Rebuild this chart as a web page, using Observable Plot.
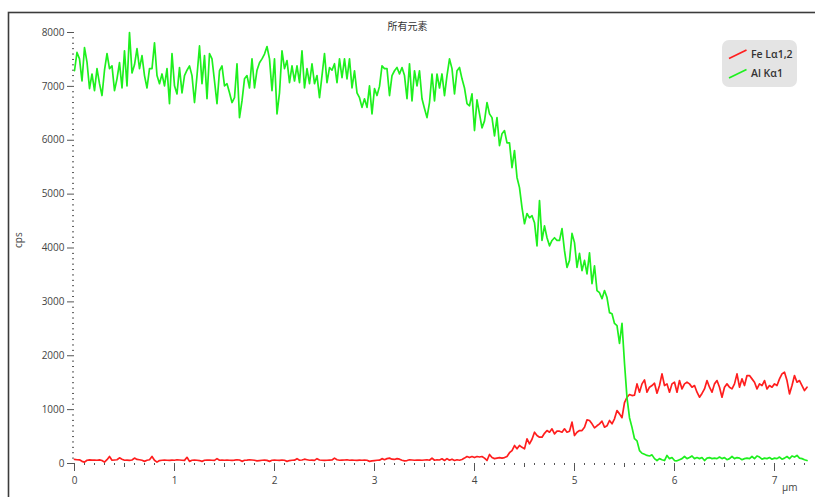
<!DOCTYPE html>
<html>
<head>
<meta charset="utf-8">
<script src="https://cdn.jsdelivr.net/npm/d3@7"></script>
<script src="https://cdn.jsdelivr.net/npm/@observablehq/plot@0.6"></script>
<style>
  html, body { margin: 0; padding: 0; background: #fff; }
  #chart svg { display: block; }
</style>
</head>
<body>
<div id="chart"></div>
<script>
// ---- chart texts ----
const chartTitle = "所有元素";
const yLabel = "cps";
const xLabel = "µm";
const seriesNames = ["Fe Lα1,2", "Al Kα1"];
const seriesColors = ["#ff1e1e", "#1ef01e"];

// ---- ticks ----
const yTicks = [0, 1000, 2000, 3000, 4000, 5000, 6000, 7000, 8000];
const xTicks = [0, 1, 2, 3, 4, 5, 6, 7];

// ---- sampling grid (µm) ----
const xStart = 0;
const xStep = 0.025;

// ---- Fe Lα1,2 (cps) ----
const feLa = [
  75, 70, 68, 40, 25, 60, 68, 62, 65, 60, 68, 55, 25, 70, 130, 60, 65, 70, 105, 80,
  60, 62, 58, 65, 100, 75, 70, 60, 40, 60, 70, 130, 60, 25, 55, 60, 65, 60, 58, 62,
  60, 70, 65, 60, 58, 115, 40, 60, 65, 60, 55, 40, 60, 62, 65, 60, 58, 90, 60, 62,
  60, 65, 60, 58, 62, 70, 65, 40, 60, 62, 70, 65, 60, 50, 55, 60, 62, 58, 40, 60,
  62, 60, 58, 65, 60, 40, 55, 60, 62, 90, 60, 65, 80, 70, 60, 62, 58, 90, 65, 60,
  58, 60, 62, 65, 100, 70, 60, 62, 65, 70, 60, 62, 60, 58, 62, 60, 65, 60, 40, 50,
  55, 60, 62, 90, 70, 90, 100, 80, 75, 90, 80, 60, 50, 55, 70, 65, 60, 62, 65, 60,
  65, 70, 60, 100, 60, 70, 65, 87, 56, 90, 60, 80, 56, 70, 60, 75, 100, 130, 110, 130,
  110, 130, 120, 130, 100, 56, 167, 110, 90, 100, 110, 100, 110, 130, 200, 241, 334, 272, 334, 300,
  272, 457, 365, 450, 581, 519, 488, 488, 560, 612, 581, 643, 550, 600, 600, 581, 643, 581, 600, 767,
  519, 581, 612, 612, 674, 810, 798, 736, 662, 700, 736, 785, 674, 699, 798, 736, 829, 983, 921, 850,
  1130, 1230, 1280, 1261, 1270, 1478, 1323, 1478, 1552, 1323, 1416, 1447, 1490, 1305, 1447, 1663, 1447, 1478, 1323, 1478,
  1509, 1323, 1540, 1385, 1478, 1509, 1478, 1416, 1447, 1323, 1230, 1300, 1385, 1540, 1416, 1323, 1478, 1540, 1416, 1230,
  1416, 1478, 1416, 1385, 1478, 1663, 1416, 1571, 1447, 1632, 1632, 1571, 1509, 1385, 1478, 1447, 1540, 1385, 1447, 1416,
  1478, 1447, 1571, 1663, 1695, 1540, 1292, 1447, 1632, 1509, 1540, 1447, 1354, 1416
];

// ---- Al Kα1 (cps) ----
const alKa = [
  7290, 7630, 7510, 7100, 7720, 7450, 6960, 7230, 6920, 7330, 7050, 6830, 7300, 7610, 7330, 7380, 6920, 7140, 7440, 6970,
  7660, 7010, 8000, 7250, 7400, 7700, 7330, 7570, 7200, 6970, 7330, 7330, 7810, 7200, 7050, 7230, 7010, 7330, 6680, 7610,
  7010, 6860, 7350, 6880, 7200, 7300, 7380, 7200, 6700, 7200, 7750, 7050, 7570, 6770, 7610, 7510, 7100, 6680, 7290, 7380,
  7010, 7050, 6880, 6700, 6790, 7420, 6420, 6730, 7140, 7200, 6970, 7510, 6970, 7300, 7440, 7510, 7600, 7740, 7510, 6920,
  7510, 6490, 6880, 7660, 7330, 7480, 7070, 7380, 7100, 7380, 7070, 7660, 6970, 7330, 7050, 7420, 7050, 7200, 6790, 7200,
  7610, 7070, 7350, 7300, 7420, 7070, 7510, 7160, 7510, 7140, 7510, 6970, 7290, 6880, 6790, 6610, 6770, 6610, 7010, 6490,
  6960, 6830, 7000, 7380, 7330, 7330, 6830, 7200, 7290, 7350, 7230, 7350, 7200, 6770, 7420, 6730, 7290, 7010, 7290, 6770,
  6590, 6420, 6700, 7230, 6730, 7230, 6970, 7230, 6830, 7200, 7510, 7330, 6860, 7290, 7350, 7140, 6970, 6680, 6640, 6860,
  6180, 6750, 6490, 6230, 6360, 6700, 6490, 6420, 6080, 6420, 5900, 6120, 6180, 5950, 5950, 5490, 5810, 5310, 5120, 4750,
  4450, 4640, 4560, 4600, 4470, 4040, 4880, 4140, 4410, 4190, 4040, 4140, 4190, 4140, 4140, 4360, 3950, 3640, 3770, 4270,
  4100, 3640, 3900, 3580, 3770, 3520, 3910, 3340, 3670, 3210, 3170, 3060, 3210, 3080, 2800, 2780, 2600, 2560, 2230, 2600,
  1860, 1220, 850, 670, 460, 420, 240, 190, 170, 150, 140, 160, 90, 55, 90, 70, 55, 150, 90, 110,
  55, 50, 70, 90, 130, 90, 110, 140, 90, 110, 90, 110, 55, 100, 110, 90, 100, 90, 120, 90,
  110, 70, 90, 130, 90, 110, 100, 70, 90, 100, 90, 130, 90, 140, 120, 80, 100, 90, 110, 80,
  100, 90, 120, 80, 100, 130, 90, 140, 120, 150, 100, 90, 70, 55
];

// ---- build table ----
const rows = [];
feLa.forEach((v, i) => rows.push({ x: xStart + i * xStep, cps: v, series: seriesNames[0] }));
alKa.forEach((v, i) => rows.push({ x: xStart + i * xStep, cps: v, series: seriesNames[1] }));

const yMinor = d3.range(yTicks[0], yTicks[yTicks.length - 1] + 1, 100).filter(v => v % 1000 !== 0);
const xMinor = d3.range(0, 74).map(i => i / 10).filter(v => v <= 7.32 && Math.abs(v * 2 - Math.round(v * 2)) > 1e-6);
const xHalf = d3.range(0, 15).map(i => i / 2).filter(v => v % 1 !== 0 && v <= 7.32);

const fontFamily = "'Open Sans', 'Noto Sans', 'Noto Sans CJK SC', sans-serif";

const chart = Plot.plot({
  width: 815,
  height: 497,
  marginLeft: 74,
  marginRight: 9,
  marginTop: 32,
  marginBottom: 34,
  x: { domain: [0, 7.32], axis: null },
  y: { domain: [0, 8000], axis: null },
  color: { domain: seriesNames, range: seriesColors },
  style: { fontFamily, fontSize: "10px", color: "#444", background: "#fff", overflow: "hidden" },
  marks: [
    Plot.frame({ insetLeft: -66, insetTop: -20, insetRight: -30, insetBottom: -80, stroke: "#3c3c3c", strokeWidth: 1.6 }),
    Plot.axisY({ ticks: yMinor, tickSize: 2, tickFormat: () => "", stroke: "#555", label: null }),
    Plot.axisY({ ticks: yTicks, tickSize: 7, tickPadding: 3, tickFormat: d => String(d), stroke: "#555", fill: "#444", label: null }),
    Plot.axisX({ ticks: xMinor, tickSize: 2, tickFormat: () => "", stroke: "#555", label: null }),
    Plot.axisX({ ticks: xHalf, tickSize: 4, tickFormat: () => "", stroke: "#555", label: null }),
    Plot.axisX({ ticks: xTicks, tickSize: 8, tickPadding: 5, tickFormat: d => String(d), stroke: "#555", fill: "#444", label: null }),
    Plot.line(rows.filter(d => d.series === seriesNames[0]), { x: "x", y: "cps", stroke: "series", strokeWidth: 1.7 }),
    Plot.line(rows.filter(d => d.series === seriesNames[1]), { x: "x", y: "cps", stroke: "series", strokeWidth: 1.7 }),
    Plot.text([chartTitle], { frameAnchor: "top", dx: -33, dy: -10, fill: "#333", fontSize: 10, fontFamily: "'Noto Sans CJK SC', sans-serif" }),
    Plot.text([yLabel], { frameAnchor: "left", dx: -56, rotate: -90, fill: "#444", fontSize: 10 }),
    Plot.text([xLabel], { frameAnchor: "bottom-right", dx: -9, dy: 20, lineAnchor: "top", fill: "#444", fontSize: 10 })
  ]
});

document.getElementById("chart").appendChild(chart);

// ---- legend (decoration drawn into the plot's SVG) ----
const svg = d3.select(chart);
const lg = svg.append("g").attr("font-family", fontFamily).attr("font-size", 10.5).attr("text-anchor", "start");
lg.append("rect").attr("x", 722).attr("y", 40).attr("width", 75).attr("height", 47)
  .attr("rx", 7).attr("fill", "#e4e4e4");
seriesNames.forEach((name, i) => {
  const cy = 54 + i * 19.5;
  lg.append("line").attr("x1", 729).attr("y1", cy + 4.5).attr("x2", 746.5).attr("y2", cy - 4)
    .attr("stroke", seriesColors[i]).attr("stroke-width", 1.7);
  lg.append("text").attr("x", 751).attr("y", cy).attr("dy", "0.35em").attr("fill", "#333")
    .attr("text-anchor", "start").attr("font-weight", 600).text(name);
});
</script>
</body>
</html>
